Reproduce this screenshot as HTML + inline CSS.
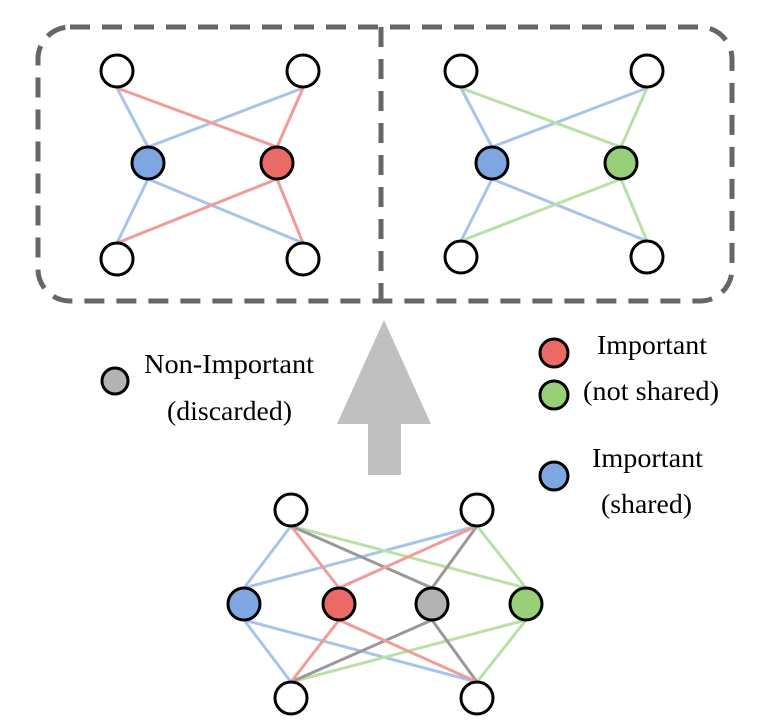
<!DOCTYPE html>
<html><head><meta charset="utf-8"><style>html,body{margin:0;padding:0;background:#fff}svg{display:block}</style></head>
<body>
<svg width="772" height="725" viewBox="0 0 772 725" xmlns="http://www.w3.org/2000/svg" font-family="'Liberation Serif', serif" font-size="27" fill="#000">
<rect x="38" y="27" width="694" height="274" rx="32" ry="32" fill="none" stroke="#666" stroke-width="5" stroke-dasharray="20 12"/>
<line x1="381" y1="27" x2="381" y2="301" stroke="#666" stroke-width="5" stroke-dasharray="20 12"/>

<g stroke-width="3" fill="none">
<line x1="117" y1="88" x2="148" y2="147" stroke="#a9c4eb"/>
<line x1="303" y1="88" x2="148" y2="147" stroke="#a9c4eb"/>
<line x1="117" y1="243" x2="148" y2="179" stroke="#a9c4eb"/>
<line x1="303" y1="243" x2="148" y2="179" stroke="#a9c4eb"/>
<line x1="117" y1="88" x2="277" y2="147" stroke="#f19c99"/>
<line x1="303" y1="88" x2="277" y2="147" stroke="#f19c99"/>
<line x1="117" y1="243" x2="277" y2="179" stroke="#f19c99"/>
<line x1="303" y1="243" x2="277" y2="179" stroke="#f19c99"/>
<line x1="461" y1="88" x2="492" y2="147" stroke="#a9c4eb"/>
<line x1="647" y1="88" x2="492" y2="147" stroke="#a9c4eb"/>
<line x1="461" y1="241" x2="492" y2="179" stroke="#a9c4eb"/>
<line x1="647" y1="241" x2="492" y2="179" stroke="#a9c4eb"/>
<line x1="461" y1="88" x2="621" y2="147" stroke="#b9e0a5"/>
<line x1="647" y1="88" x2="621" y2="147" stroke="#b9e0a5"/>
<line x1="461" y1="241" x2="621" y2="179" stroke="#b9e0a5"/>
<line x1="647" y1="241" x2="621" y2="179" stroke="#b9e0a5"/>
<line x1="291" y1="526" x2="244" y2="588" stroke="#a9c4eb"/>
<line x1="477" y1="526" x2="244" y2="588" stroke="#a9c4eb"/>
<line x1="291" y1="682" x2="244" y2="620" stroke="#a9c4eb"/>
<line x1="477" y1="682" x2="244" y2="620" stroke="#a9c4eb"/>
<line x1="291" y1="526" x2="526" y2="588" stroke="#b9e0a5"/>
<line x1="477" y1="526" x2="526" y2="588" stroke="#b9e0a5"/>
<line x1="291" y1="682" x2="526" y2="620" stroke="#b9e0a5"/>
<line x1="477" y1="682" x2="526" y2="620" stroke="#b9e0a5"/>
<line x1="291" y1="526" x2="432" y2="588" stroke="#999"/>
<line x1="477" y1="526" x2="432" y2="588" stroke="#999"/>
<line x1="291" y1="682" x2="432" y2="620" stroke="#999"/>
<line x1="477" y1="682" x2="432" y2="620" stroke="#999"/>
<line x1="291" y1="526" x2="339" y2="588" stroke="#f19c99"/>
<line x1="477" y1="526" x2="339" y2="588" stroke="#f19c99"/>
<line x1="291" y1="682" x2="339" y2="620" stroke="#f19c99"/>
<line x1="477" y1="682" x2="339" y2="620" stroke="#f19c99"/>
</g>

<g stroke="#000" stroke-width="3">
<circle cx="117" cy="71" r="16" fill="#fff"/>
<circle cx="303" cy="71" r="16" fill="#fff"/>
<circle cx="148" cy="163" r="16" fill="#7ea6e0"/>
<circle cx="277" cy="163" r="16" fill="#ea6b66"/>
<circle cx="117" cy="259" r="16" fill="#fff"/>
<circle cx="303" cy="259" r="16" fill="#fff"/>
<circle cx="461" cy="71" r="16" fill="#fff"/>
<circle cx="647" cy="71" r="16" fill="#fff"/>
<circle cx="492" cy="163" r="16" fill="#7ea6e0"/>
<circle cx="621" cy="163" r="16" fill="#97d077"/>
<circle cx="461" cy="257" r="16" fill="#fff"/>
<circle cx="647" cy="257" r="16" fill="#fff"/>
<circle cx="291" cy="510" r="16" fill="#fff"/>
<circle cx="477" cy="510" r="16" fill="#fff"/>
<circle cx="244" cy="604" r="16" fill="#7ea6e0"/>
<circle cx="339" cy="604" r="16" fill="#ea6b66"/>
<circle cx="432" cy="604" r="16" fill="#b3b3b3"/>
<circle cx="526" cy="604" r="16" fill="#97d077"/>
<circle cx="291" cy="698" r="16" fill="#fff"/>
<circle cx="477" cy="698" r="16" fill="#fff"/>
<circle cx="115" cy="381" r="13" fill="#b3b3b3"/>
<circle cx="554" cy="353" r="14" fill="#ea6b66"/>
<circle cx="554" cy="395" r="14" fill="#97d077"/>
<circle cx="554" cy="476" r="14" fill="#7ea6e0"/>
</g>

<polygon points="384,320 431,424 401,424 401,475 368,475 368,424 337,424" fill="#c0c0c0"/>

<text x="144" y="373" textLength="170" lengthAdjust="spacingAndGlyphs">Non-Important</text>
<text x="167" y="420" textLength="125" lengthAdjust="spacingAndGlyphs">(discarded)</text>
<text x="597" y="354" textLength="110" lengthAdjust="spacingAndGlyphs">Important</text>
<text x="583" y="400" textLength="136" lengthAdjust="spacingAndGlyphs">(not shared)</text>
<text x="592" y="467" textLength="111" lengthAdjust="spacingAndGlyphs">Important</text>
<text x="601" y="513" textLength="91" lengthAdjust="spacingAndGlyphs">(shared)</text>
</svg>
</body></html>
